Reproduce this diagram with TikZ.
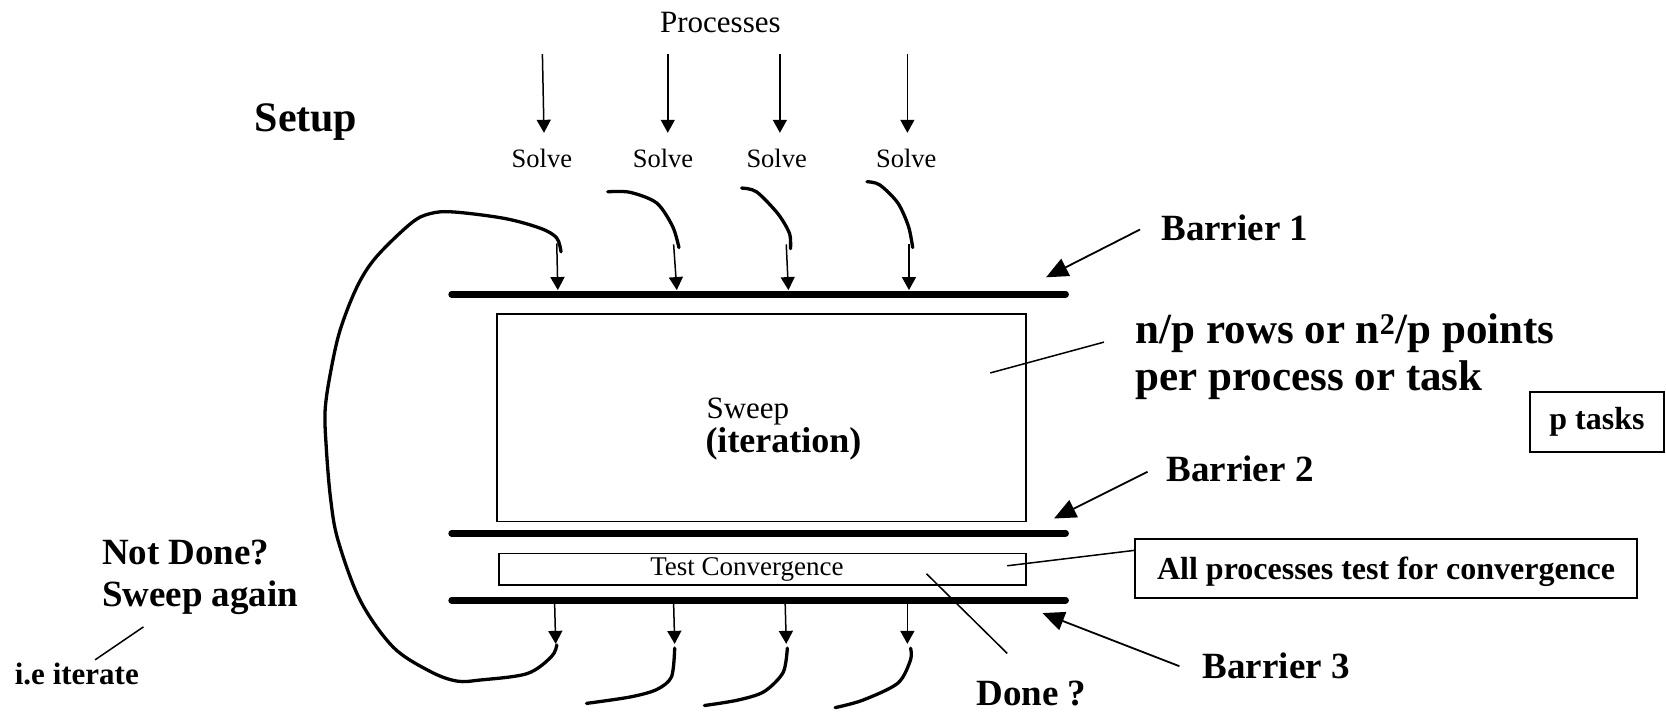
\documentclass[tikz,border=0pt]{standalone}
\usepackage{fontspec}
\setmainfont{Liberation Serif}
\usetikzlibrary{arrows.meta}
\newcommand{\fs}[1]{\fontsize{#1}{#1}\selectfont}
\tikzset{
  lbl/.style={inner sep=0pt, outer sep=0pt},
  thin/.style={line width=1.5pt},
  hookline/.style={line width=3.3pt, line cap=round},
  barrier/.style={line width=6.5pt, line cap=round},
  arr/.style={line width=1.5pt, -{Triangle[length=13pt,width=14pt]}},
  bigarr/.style={line width=1.8pt, -{Triangle[length=22pt,width=19pt]}},
  box/.style={draw, line width=1.5pt, inner sep=0pt},
}
\begin{document}
\begin{tikzpicture}[x=1.0625pt,y=-1.0625pt]
\useasboundingbox (0,0) rectangle (1568,670);

% titles
\node[lbl, font=\fs{31}] (proc) at (678,21) {Processes};
\node[lbl, font=\bfseries\fs{42}] (setup) at (288,115) {Setup};

% solve labels and process arrows
\node[lbl, font=\fs{26.5}] (s1) at (510,149) {Solve};
\node[lbl, font=\fs{26.5}] (s2) at (624,149) {Solve};
\node[lbl, font=\fs{26.5}] (s3) at (731,149) {Solve};
\node[lbl, font=\fs{26.5}] (s4) at (853,149) {Solve};
\coordinate (t1) at (510.5,51);  \coordinate (h1) at (512,125);
\coordinate (t2) at (628.5,51);  \coordinate (h2) at (628.5,125);
\coordinate (t3) at (734,51);    \coordinate (h3) at (734,125);
\coordinate (t4) at (854,51);    \coordinate (h4) at (854,125);
\draw[arr] (t1) -- (h1);
\draw[arr] (t2) -- (h2);
\draw[arr] (t3) -- (h3);
\draw[arr] (t4) -- (h4);

% barriers
\coordinate (b1l) at (425,277); \coordinate (b1r) at (1003,277);
\coordinate (b2l) at (425,502); \coordinate (b2r) at (1003,502);
\coordinate (b3l) at (425,565); \coordinate (b3r) at (1003,565);
\draw[barrier] (b1l) -- (b1r);
\draw[barrier] (b2l) -- (b2r);
\draw[barrier] (b3l) -- (b3r);

% boxes
\node[box, minimum width=498*1.0625pt, minimum height=195*1.0625pt, anchor=north west] (sweepbox) at (467,295) {};
\node[lbl, font=\fs{31}, anchor=west] (sweeptxt) at (665,387) {Sweep};
\node[lbl, font=\bfseries\fs{36}, anchor=west] (itertxt) at (664,418) {(iteration)};
\node[box, minimum width=496*1.0625pt, minimum height=30*1.0625pt, anchor=north west] (testbox) at (469,520) {};
\node[lbl, font=\fs{27}] (testtxt) at (703,535.5) {Test Convergence};

% top hooks and arrows onto barrier 1
\draw[hookline] plot[smooth] coordinates {(572,180.5) (593,181) (618,191) (633,213) (639,233)};
\draw[hookline] plot[smooth] coordinates {(698,177) (712,180.5) (732,201) (743,219.6) (744,234)};
\draw[hookline] plot[smooth] coordinates {(816,171) (828,174) (845,191) (855,213) (859,233)};
\coordinate (a1) at (524,229); \coordinate (a1e) at (525,273);
\coordinate (a2) at (634,230); \coordinate (a2e) at (637,273);
\coordinate (a3) at (740,230); \coordinate (a3e) at (742,273);
\coordinate (a4) at (855.5,230); \coordinate (a4e) at (855.5,273);
\draw[arr] (a1) -- (a1e);
\draw[arr] (a2) -- (a2e);
\draw[arr] (a3) -- (a3e);
\draw[arr] (a4) -- (a4e);

% big loop
\draw[hookline] plot[smooth, tension=0.55] coordinates {(528,237) (524,224) (509,215) (475,205.6) (427,199.5) (405,201) (387,210) (354,242) (336,270) (320,311) (311,351) (306,386) (307,420) (311,468) (318,508) (339,565) (370,609) (405,632) (430,641) (452,640) (496,634) (519,618) (524,607)};

% bottom arrows from barrier 3
\coordinate (d1) at (522,568); \coordinate (d1e) at (523,606);
\coordinate (d2) at (634,568); \coordinate (d2e) at (635,606);
\coordinate (d3) at (739,568); \coordinate (d3e) at (740,606);
\coordinate (d4) at (854,568); \coordinate (d4e) at (854,606);
\draw[arr] (d1) -- (d1e);
\draw[arr] (d2) -- (d2e);
\draw[arr] (d3) -- (d3e);
\draw[arr] (d4) -- (d4e);
\draw[hookline] plot[smooth] coordinates {(635,610) (632,637) (618,649) (593,656) (552,662)};
\draw[hookline] plot[smooth] coordinates {(741,610) (737,633) (719,651) (694,659) (663,664)};
\draw[hookline] plot[smooth] coordinates {(857,610) (857,621) (845,643) (812,659) (786,666)};

% barrier labels
\node[lbl, font=\bfseries\fs{37}, anchor=west] (bl1) at (1093,214) {Barrier 1};
\node[lbl, font=\bfseries\fs{37}, anchor=west] (bl2) at (1098,441) {Barrier 2};
\node[lbl, font=\bfseries\fs{37}, anchor=west] (bl3) at (1132,627) {Barrier 3};
\coordinate (bt1) at (984.5,261); \coordinate (bs1) at (1073,216);
\coordinate (bt2) at (992,488);   \coordinate (bs2) at (1080,444);
\coordinate (bt3) at (981,577);   \coordinate (bs3) at (1110,627);
\draw[bigarr] (bs1) -- (bt1);
\draw[bigarr] (bs2) -- (bt2);
\draw[bigarr] (bs3) -- (bt3);

% n/p text
\node[lbl, font=\bfseries\fs{43}, anchor=west, align=left] (np) at (1069,336)
  {n/p rows or n\textsuperscript{2}/p points\\[4pt]per process or task};
\coordinate (npa) at (1039,322); \coordinate (npb) at (932,351);
\draw[thin] (npa) -- (npb);

% p tasks
\node[draw, line width=2pt, minimum width=126*1.0625pt, minimum height=56*1.0625pt, inner sep=0pt,
      font=\bfseries\fs{32}] (ptasks) at (1503,397) {p tasks};

% all processes box
\node[draw, line width=2pt, minimum width=472*1.0625pt, minimum height=56*1.0625pt, inner sep=0pt,
      text height=23pt, text depth=0pt,
      font=\bfseries\fs{32}] (allbox) at (1304.5,535) {All processes test for convergence};
\coordinate (ta) at (948,532.5);
\draw[thin] (ta) -- (allbox.west |- 0,518);

% done
\node[lbl, font=\bfseries\fs{37}, anchor=west] (done) at (919,653) {Done ?};
\coordinate (dn1) at (872,540); \coordinate (dn2) at (948,615);
\draw[thin] (dn1) -- (dn2);

% not done
\node[lbl, font=\bfseries\fs{37}, anchor=west, align=left] (notdone) at (96,543)
  {Not Done?\\[5pt]Sweep again};
\node[lbl, font=\bfseries\fs{31}, anchor=west] (ie) at (14,634) {i.e iterate};
\coordinate (ie1) at (135,590); \coordinate (ie2) at (89.5,621);
\draw[thin] (ie1) -- (ie2);
\end{tikzpicture}
\end{document}
